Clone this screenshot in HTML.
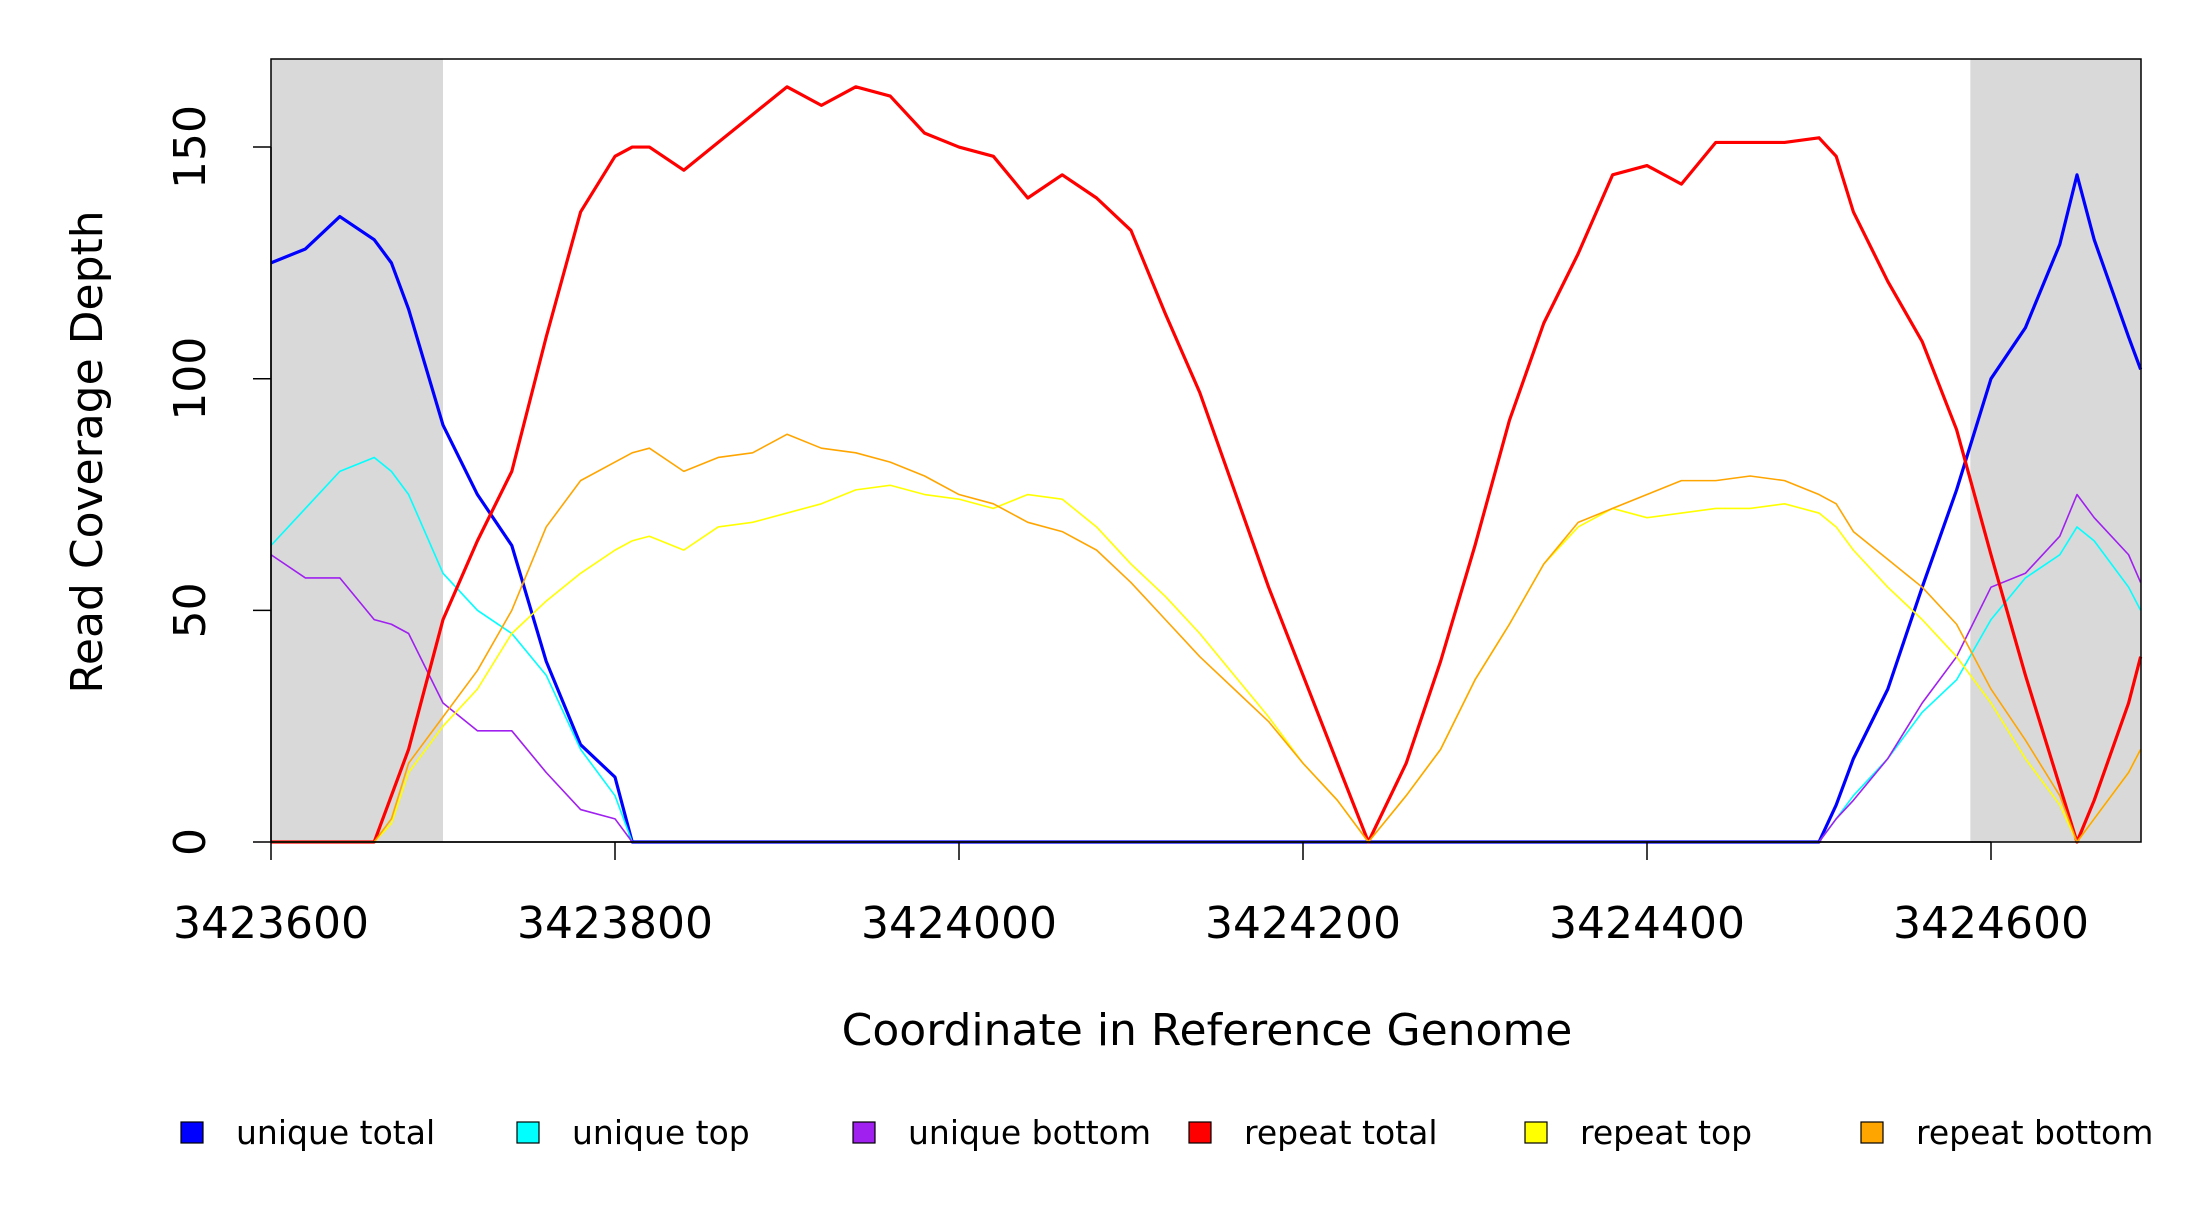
<!DOCTYPE html>
<html><head><meta charset="utf-8"><style>
body{margin:0;background:#fff}
svg text{font-family:"DejaVu Sans","Liberation Sans",sans-serif;fill:#000}
</style></head><body>
<svg id="chart" width="2200" height="1200" viewBox="0 0 2200 1200" xmlns="http://www.w3.org/2000/svg">
<g id="shade"></g>
<g id="series"></g>
<rect x="271" y="59" width="1870" height="783" fill="none" stroke="#000" stroke-width="1.5"/>
<g id="axes"></g>
<text x="1207" y="1045" font-size="44" text-anchor="middle">Coordinate in Reference Genome</text>
<text transform="translate(102,452) rotate(-90)" font-size="44" text-anchor="middle">Read Coverage Depth</text>
<g id="legend"></g>
</svg>
<script>
const positions=[0,20,40,60,70,80,100,120,140,160,180,200,210,220,240,260,280,300,320,340,360,380,400,420,440,460,480,500,520,540,560,580,600,620,638,660,680,700,720,740,760,780,800,820,840,860,880,900,910,920,940,960,980,1000,1020,1040,1050,1060,1080,1087];
const uniqueTotal=[125,128,135,130,125,115,90,75,64,39,21,14,0,0,0,0,0,0,0,0,0,0,0,0,0,0,0,0,0,0,0,0,0,0,0,0,0,0,0,0,0,0,0,0,0,0,0,0,8,18,33,55,76,100,111,129,144,130,109,102];
const uniqueTop=[64,72,80,83,80,75,58,50,45,36,20,10,0,0,0,0,0,0,0,0,0,0,0,0,0,0,0,0,0,0,0,0,0,0,0,0,0,0,0,0,0,0,0,0,0,0,0,0,5,10,18,28,35,48,57,62,68,65,55,50];
const uniqueBottom=[62,57,57,48,47,45,30,24,24,15,7,5,0,0,0,0,0,0,0,0,0,0,0,0,0,0,0,0,0,0,0,0,0,0,0,0,0,0,0,0,0,0,0,0,0,0,0,0,5,9,18,30,40,55,58,66,75,70,62,56];
const repeatTotal=[0,0,0,0,10,20,48,65,80,109,136,148,150,150,145,151,157,163,159,163,161,153,150,148,139,144,139,132,114,97,76,55,36,17,0,17,39,64,91,112,127,144,146,142,151,151,151,152,148,136,121,108,89,62,36,12,0,9,30,40];
const repeatTop=[0,0,0,0,4,15,25,33,45,52,58,63,65,66,63,68,69,71,73,76,77,75,74,72,75,74,68,60,53,45,36,27,17,9,0,10,20,35,47,60,68,72,70,71,72,72,73,71,68,63,55,48,40,30,18,8,0,5,15,20];
const repeatBottom=[0,0,0,0,5,17,27,37,50,68,78,82,84,85,80,83,84,88,85,84,82,79,75,73,69,67,63,56,48,40,33,26,17,9,0,10,20,35,47,60,69,72,75,78,78,79,78,75,73,67,61,55,47,33,22,10,0,5,15,20];
const xTicks=[3423600,3423800,3424000,3424200,3424400,3424600];
const yTicks=[0,50,100,150];
const shadeRanges=[[3423600,3423700],[3424588,3424687]];
const legendLabels=["unique total","unique top","unique bottom","repeat total","repeat top","repeat bottom"];
const legendColors=["#0000ff","#00ffff","#a020f0","#ff0000","#ffff00","#ffa500"];

const X0=3423600,NS="http://www.w3.org/2000/svg";
const sx=v=>271+(v-X0)*1.72;
const sy=v=>842-v*4.633;
function mk(tag,attrs,parent){const e=document.createElementNS(NS,tag);for(const k in attrs)e.setAttribute(k,attrs[k]);parent.appendChild(e);return e;}
const shadeG=document.getElementById('shade');
shadeRanges.forEach((r,i)=>{
 const a=Math.max(sx(r[0]),271),b=Math.min(sx(r[1]),2141);
 const el=mk('rect',{x:a,y:59,width:b-a,height:783,fill:'#d9d9d9'},shadeG);
 
 
});
const seriesG=document.getElementById('series');
const series=[[uniqueTotal,'#0000ff',3.2,'unique-total'],[uniqueTop,'#00ffff',1.6,'unique-top'],[uniqueBottom,'#a020f0',1.6,'unique-bottom'],[repeatTotal,'#ff0000',3.2,'repeat-total'],[repeatTop,'#ffff00',1.6,'repeat-top'],[repeatBottom,'#ffa500',1.6,'repeat-bottom']];
series.forEach(s=>{
 const vals=s[0];
 const pts=positions.map((p,i)=>Math.min(sx(X0+p),2141)+','+sy(vals[i])).join(' ');
 const p=mk('polyline',{points:pts,fill:'none',stroke:s[1],'stroke-width':s[2],'stroke-linejoin':'round'},seriesG);
 
 
});
const axG=document.getElementById('axes');
mk('line',{x1:271,x2:sx(3424600),y1:842,y2:842,stroke:'#000','stroke-width':1.5},axG);
xTicks.forEach(t=>{
 const x=sx(t);
 const l=mk('line',{x1:x,x2:x,y1:842,y2:860,stroke:'#000','stroke-width':1.5},axG);
 
 
 const tx=mk('text',{x:x,y:938,'font-size':44,'text-anchor':'middle'},axG);
 tx.textContent=t;
 
 
});
mk('line',{x1:271,x2:271,y1:sy(0),y2:sy(150),stroke:'#000','stroke-width':1.5},axG);
yTicks.forEach(t=>{
 const y=sy(t);
 const l=mk('line',{x1:253,x2:271,y1:y,y2:y,stroke:'#000','stroke-width':1.5},axG);
 
 
 const tx=mk('text',{transform:'translate(205,'+y+') rotate(-90)','font-size':44,'text-anchor':'middle'},axG);
 tx.textContent=t;
 
 
});
const lg=document.getElementById('legend');
legendLabels.forEach((lab,i)=>{
 const bx=181+i*336;
 const r=mk('rect',{x:bx,y:1122,width:22,height:21,fill:legendColors[i],stroke:'#000','stroke-width':1.2},lg);
 
 
 const t=mk('text',{x:bx+55,y:1144,'font-size':33},lg);
 t.textContent=lab;
 
 
});
</script>
</body></html>
